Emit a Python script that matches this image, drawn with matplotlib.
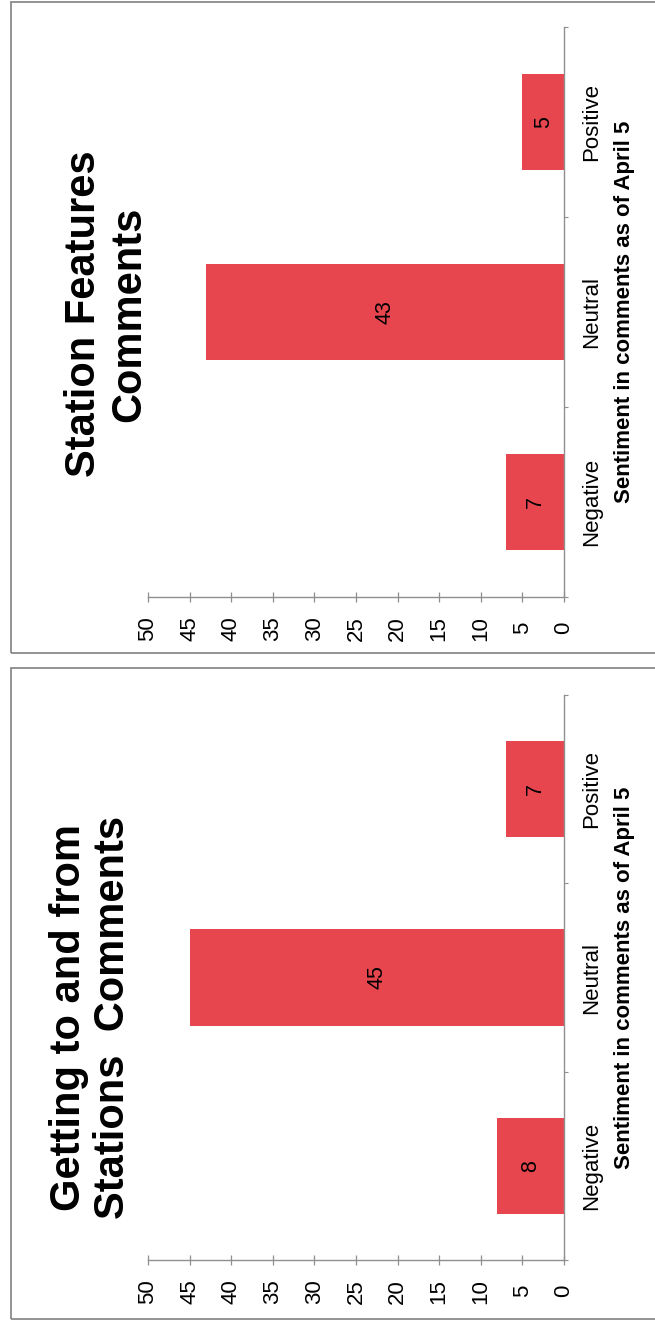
import matplotlib
matplotlib.use("Agg")
import matplotlib.pyplot as plt
from matplotlib.patches import Rectangle
from matplotlib.ticker import FixedLocator

plt.rcParams["font.family"] = ["Liberation Sans", "DejaVu Sans"]

# ---- data -------------------------------------------------------------
categories = ["Negative", "Neutral", "Positive"]
station_features = [7, 43, 5]
getting_to_from = [8, 45, 7]
value_ticks = [0, 5, 10, 15, 20, 25, 30, 35, 40, 45, 50]
axis_title = "Sentiment in comments as of April 5"
title_features = "Station Features\nComments"
title_getting = "Getting to and from\nStations  Comments"

# ---- layout helpers (pixel boxes on a 655 x 1321 canvas) --------------
W, H = 655, 1321
fig = plt.figure(figsize=(W / 100, H / 100), dpi=100)

BAR = "#E8464E"
AXIS = "#8f8f8f"
FRAME = "#8a8a8a"


def px_rect(x0, y0, x1, y1):
    return [x0 / W, 1 - y1 / H, (x1 - x0) / W, (y1 - y0) / H]


def panel(frame_box, axes_box, values, title, title_xy):
    l, b, w, h = px_rect(*frame_box)
    fig.patches.append(Rectangle((l, b), w, h, transform=fig.transFigure,
                                 fill=False, edgecolor=FRAME, lw=1.3))

    ax = fig.add_axes(px_rect(*axes_box))
    pos = list(range(len(categories)))
    bars = ax.barh(pos, values, height=0.51, color=BAR, zorder=2)
    ax.set_xlim(max(value_ticks), 0)
    ax.set_ylim(-0.5, len(categories) - 0.5)

    # value axis (drawn along the bottom, labels turned sideways)
    ax.set_xticks(value_ticks, labels=[str(v) for v in value_ticks],
                  rotation=90, va="center", ha="center")
    ax.tick_params(axis="x", direction="inout", length=7, width=0.9,
                   color=AXIS, labelsize=16, pad=19)

    # category axis on the right
    ax.yaxis.tick_right()
    ax.set_yticks(pos, labels=categories, rotation=90, va="center", ha="center")
    ax.yaxis.set_minor_locator(FixedLocator([p - 0.5 for p in pos] + [pos[-1] + 0.5]))
    ax.tick_params(axis="y", which="major", length=0, labelsize=16, pad=20)
    ax.tick_params(axis="y", which="minor", direction="out", length=3,
                   width=0.8, color=AXIS)

    for side in ("top", "left"):
        ax.spines[side].set_visible(False)
    for side in ("bottom", "right"):
        ax.spines[side].set_color(AXIS)
        ax.spines[side].set_linewidth(1.0)

    ax.bar_label(bars, label_type="center", rotation=90, fontsize=15.5)

    ax.text(1.145, 0.5, axis_title, transform=ax.transAxes, rotation=90,
            ha="center", va="center", fontsize=16, fontweight="bold")
    ax.text(title_xy[0], title_xy[1], title, transform=ax.transAxes,
            rotation=90, ha="center", va="center", fontsize=30,
            fontweight="bold", linespacing=1.15)
    return ax


panel((11, 2, 720, 653), (148, 27, 564, 597), station_features,
      title_features, (-0.099, 0.4965))
panel((11, 668, 720, 1319), (148, 695, 564, 1260), getting_to_from,
      title_getting, (-0.137, 0.430))

fig.savefig("out.png", dpi=100)
